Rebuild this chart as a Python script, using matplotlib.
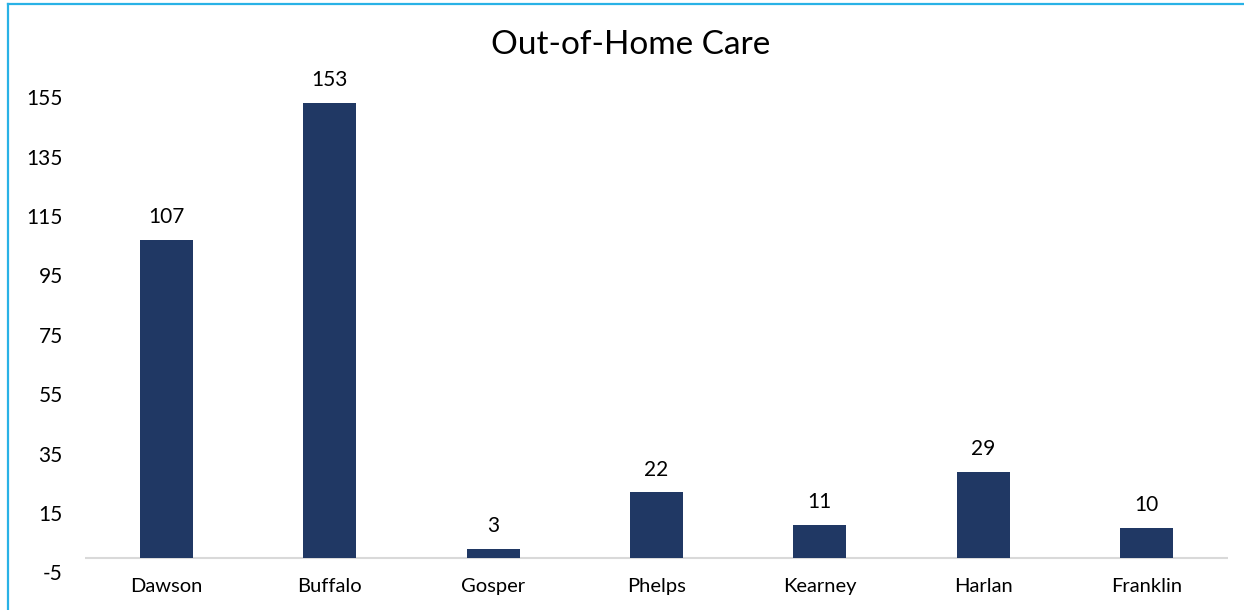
import numpy as np
import matplotlib
matplotlib.use("Agg")
import matplotlib.pyplot as plt
from matplotlib.lines import Line2D

plt.rcParams['font.family'] = ['Lato', 'DejaVu Sans']
plt.rcParams['axes.unicode_minus'] = False

# chart data
counties = ["Dawson", "Buffalo", "Gosper", "Phelps", "Kearney", "Harlan", "Franklin"]
placements = [107, 153, 3, 22, 11, 29, 10]
y_ticks = [-5, 15, 35, 55, 75, 95, 115, 135, 155]

bar_color = "#203864"
frame_color = "#29B2E6"

fig = plt.figure(figsize=(12.44, 6.10), dpi=100)
ax = fig.add_axes([85 / 1244, 1 - 572.5 / 610, (1228 - 85) / 1244, 505 / 610])

x = np.arange(len(counties))
bars = ax.bar(x, placements, width=0.325, color=bar_color, zorder=3)

# bar value labels
for xi, v in zip(x, placements):
    ax.annotate(str(v), (xi, v), xytext=(0, 12), textcoords="offset points",
                ha="center", va="baseline", fontsize=15, color="#000000")

ax.axhline(0, color="#D9D9D9", linewidth=1.5, zorder=2)

ax.set_xlim(-0.5, len(counties) - 0.5)
ax.set_ylim(-5, 165)
ax.set_yticks(y_ticks)
ax.set_xticks(x)
ax.set_xticklabels(counties)
ax.tick_params(axis="y", length=0, pad=16, labelsize=15)
ax.tick_params(axis="x", length=0, pad=4, labelsize=14.5)
for s in ax.spines.values():
    s.set_visible(False)

fig.text(631 / 1244, 1 - 45 / 610, "Out-of-Home Care", ha="center", va="center",
         fontsize=24, color="#000000")

# light blue frame at left and top edges
fig.add_artist(Line2D([8 / 1244, 8 / 1244], [0, 1 - 4 / 610], transform=fig.transFigure,
                      color=frame_color, linewidth=1.6))
fig.add_artist(Line2D([8 / 1244, 1], [1 - 4 / 610, 1 - 4 / 610], transform=fig.transFigure,
                      color=frame_color, linewidth=1.6))

plt.savefig("out.png", dpi=100)
